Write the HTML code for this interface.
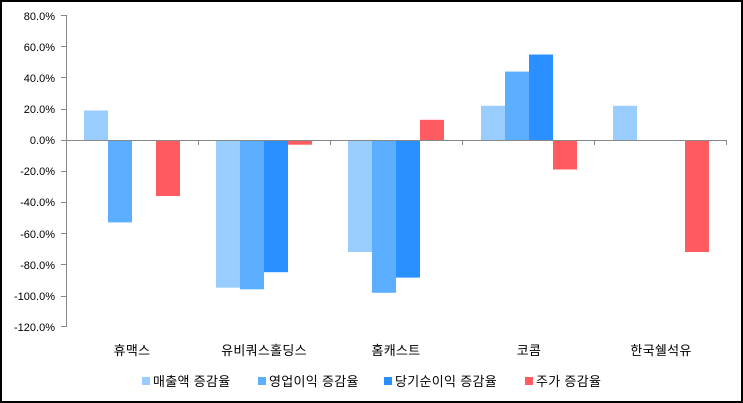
<!DOCTYPE html>
<html><head><meta charset="utf-8"><style>
html,body{margin:0;padding:0;background:#fff;}
svg{display:block;}
text{font-family:"Liberation Sans","Noto Sans CJK KR",sans-serif;fill:#000;}
</style></head><body>
<svg width="743" height="403" viewBox="0 0 743 403" xmlns="http://www.w3.org/2000/svg">
<rect x="1" y="1" width="741" height="401" fill="#fff" stroke="#000" stroke-width="2"/>
<g font-size="11" text-anchor="end">
<text x="55" y="20">80.0%</text>
<text x="55" y="51">60.0%</text>
<text x="55" y="82">40.0%</text>
<text x="55" y="113">20.0%</text>
<text x="55" y="144">0.0%</text>
<text x="55" y="175">-20.0%</text>
<text x="55" y="206">-40.0%</text>
<text x="55" y="238">-60.0%</text>
<text x="55" y="269">-80.0%</text>
<text x="55" y="300">-100.0%</text>
<text x="55" y="331">-120.0%</text>
</g>
<g>
<rect x="84" y="110.5" width="24" height="29.5" fill="#99ccff"/>
<rect x="108" y="140" width="24" height="82.4" fill="#5caeff"/>
<rect x="156" y="140" width="24" height="56" fill="#ff5b61"/>

<rect x="216" y="140" width="24" height="147.7" fill="#99ccff"/>
<rect x="240" y="140" width="24" height="149.3" fill="#5caeff"/>
<rect x="264" y="140" width="24" height="132.2" fill="#2b90ff"/>
<rect x="288" y="140" width="24" height="4.7" fill="#ff5b61"/>

<rect x="348" y="140" width="24" height="112" fill="#99ccff"/>
<rect x="372" y="140" width="24" height="152.8" fill="#5caeff"/>
<rect x="396" y="140" width="24" height="137.6" fill="#2b90ff"/>
<rect x="420" y="119.8" width="24" height="20.2" fill="#ff5b61"/>

<rect x="481" y="105.8" width="24" height="34.2" fill="#99ccff"/>
<rect x="505" y="71.6" width="24" height="68.4" fill="#5caeff"/>
<rect x="529" y="54.5" width="24" height="85.5" fill="#2b90ff"/>
<rect x="553" y="140" width="24" height="29.5" fill="#ff5b61"/>

<rect x="613" y="105.8" width="24" height="34.2" fill="#99ccff"/>
<rect x="685" y="140" width="24" height="112" fill="#ff5b61"/>
</g>
<g stroke="#888" stroke-width="1" fill="none">
<line x1="66.5" y1="15" x2="66.5" y2="327"/>
<path d="M61 15.5H66 M61 46.5H66 M61 77.5H66 M61 109.5H66 M61 140.5H66 M61 171.5H66 M61 202.5H66 M61 233.5H66 M61 264.5H66 M61 296.5H66 M61 326.5H66"/>
<line x1="66" y1="140.5" x2="726" y2="140.5"/>
<path d="M198.5 140V145 M330.5 140V145 M462.5 140V145 M594.5 140V145 M726.5 140V145"/>
</g>
<g font-size="13" text-anchor="middle" letter-spacing="0.3">
<text x="132" y="355">휴맥스</text>
<text x="264" y="355">유비쿼스홀딩스</text>
<text x="396" y="355">홈캐스트</text>
<text x="529" y="355">코콤</text>
<text x="661" y="355">한국쉘석유</text>
</g>
<g font-size="13" letter-spacing="0.3">
<rect x="142" y="377" width="8" height="8" fill="#99ccff"/><text x="153" y="386">매출액 증감율</text>
<rect x="258" y="377" width="8" height="8" fill="#5caeff"/><text x="269" y="386">영업이익 증감율</text>
<rect x="384" y="377" width="8" height="8" fill="#2b90ff"/><text x="395" y="386">당기순이익 증감율</text>
<rect x="525" y="377" width="8" height="8" fill="#ff5b61"/><text x="536" y="386">주가 증감율</text>
</g>
</svg>
</body></html>
